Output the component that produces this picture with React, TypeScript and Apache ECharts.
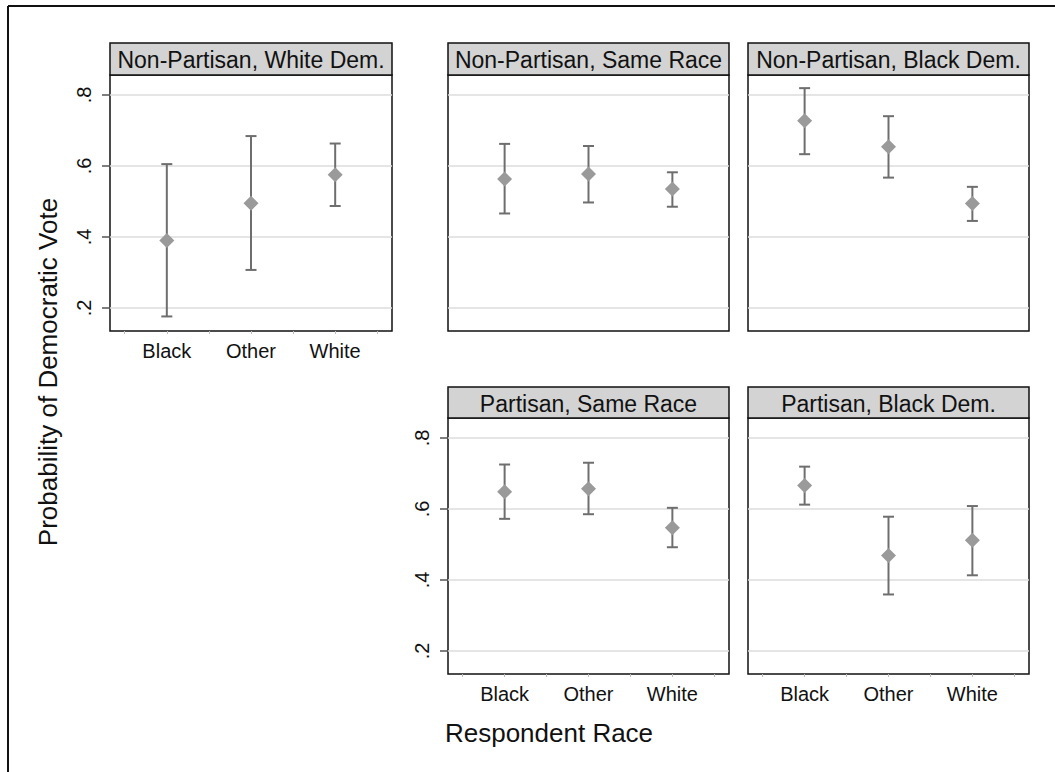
import React, { useEffect, useRef } from "react";
import * as echarts from "echarts";

const categories = ["Black", "Other", "White"];
const panelTitles = [
  "Non-Partisan, White Dem.",
  "Non-Partisan, Same Race",
  "Non-Partisan, Black Dem.",
  "Partisan, Same Race",
  "Partisan, Black Dem.",
];
const est1 = [0.39, 0.495, 0.575];
const lo1 = [0.176, 0.307, 0.487];
const hi1 = [0.605, 0.684, 0.663];
const est2 = [0.563, 0.577, 0.535];
const lo2 = [0.466, 0.497, 0.485];
const hi2 = [0.662, 0.656, 0.582];
const est3 = [0.727, 0.654, 0.494];
const lo3 = [0.633, 0.567, 0.445];
const hi3 = [0.819, 0.74, 0.541];
const est4 = [0.648, 0.657, 0.547];
const lo4 = [0.572, 0.585, 0.492];
const hi4 = [0.725, 0.73, 0.603];
const est5 = [0.666, 0.469, 0.512];
const lo5 = [0.612, 0.359, 0.413];
const hi5 = [0.719, 0.578, 0.608];
const yTicks = [0.2, 0.4, 0.6, 0.8];
const xTicks = [0.5, 1, 1.5, 2, 2.5, 3, 3.5];
const xLabelVals = [1, 2, 3];
const yTitle = "Probability of Democratic Vote";
const xTitle = "Respondent Race";

const FONT = '"Liberation Sans", Arial, Helvetica, sans-serif';

const ests = [est1, est2, est3, est4, est5];
const los = [lo1, lo2, lo3, lo4, lo5];
const his = [hi1, hi2, hi3, hi4, hi5];

// layout
const grids = [
  { left: 110, top: 75, width: 282, height: 256 },
  { left: 448, top: 75, width: 281, height: 256 },
  { left: 748, top: 75, width: 281, height: 256 },
  { left: 448, top: 418, width: 281, height: 256 },
  { left: 748, top: 418, width: 281, height: 256 },
];
const headerTop = [43, 43, 43, 387, 387];
const showX = [true, false, false, true, true];
const showY = [true, false, false, true, false];

export default function App() {
  const ref = useRef<HTMLDivElement>(null);
  useEffect(() => {
    if (!ref.current) return;
    const chart = echarts.init(ref.current, null, { renderer: "svg" });
    const xAxis: any[] = [];
    const yAxis: any[] = [];
    const series: any[] = [];
    const graphic: any[] = [];

    grids.forEach((g, i) => {
      xAxis.push({
        type: "value",
        gridIndex: i,
        min: 0.325,
        max: 3.675,
        axisLine: { show: false },
        splitLine: { show: false },
        axisTick: {
          show: showX[i],
          customValues: xTicks,
          length: 3,
          lineStyle: { color: "#bbbbbb", width: 1 },
        },
        axisLabel: {
          show: showX[i],
          customValues: xLabelVals,
          margin: 10,
          fontSize: 20,
          fontFamily: FONT,
          color: "#111",
          formatter: (v: number) => categories[Math.round(v) - 1] || "",
        },
      });
      yAxis.push({
        type: "value",
        gridIndex: i,
        min: 0.135,
        max: 0.856,
        axisLine: { show: false },
        splitLine: { show: false },
        axisTick: {
          show: showY[i],
          customValues: yTicks,
          length: 8,
          lineStyle: { color: "#555", width: 1.5 },
        },
        axisLabel: {
          show: showY[i],
          customValues: yTicks,
          rotate: 90,
          margin: 16,
          fontSize: 20,
          fontFamily: FONT,
          color: "#111",
          formatter: (v: number) => v.toFixed(1).replace(/^0/, ""),
        },
      });
      // gridlines
      series.push({
        type: "custom",
        xAxisIndex: i,
        yAxisIndex: i,
        silent: true,
        z: 1,
        data: yTicks.map((t) => [1, t]),
        renderItem: (params: any, api: any) => {
          const cs = params.coordSys;
          const y = api.coord([1, api.value(1)])[1];
          return {
            type: "line",
            shape: { x1: cs.x, y1: y, x2: cs.x + cs.width, y2: y },
            style: { stroke: "#dddddd", lineWidth: 1.5 },
          };
        },
      });
      // error bars
      series.push({
        type: "custom",
        xAxisIndex: i,
        yAxisIndex: i,
        silent: true,
        z: 3,
        data: categories.map((_, k) => [k + 1, los[i][k], his[i][k]]),
        renderItem: (params: any, api: any) => {
          const x = api.value(0);
          const lo = api.coord([x, api.value(1)]);
          const hi = api.coord([x, api.value(2)]);
          const hw = 5.5;
          const st = { stroke: "#6e6e6e", lineWidth: 2 };
          return {
            type: "group",
            children: [
              { type: "line", shape: { x1: lo[0], y1: lo[1], x2: hi[0], y2: hi[1] }, style: st },
              { type: "line", shape: { x1: lo[0] - hw, y1: lo[1], x2: lo[0] + hw, y2: lo[1] }, style: st },
              { type: "line", shape: { x1: hi[0] - hw, y1: hi[1], x2: hi[0] + hw, y2: hi[1] }, style: st },
            ],
          };
        },
      });
      // points
      series.push({
        type: "scatter",
        xAxisIndex: i,
        yAxisIndex: i,
        z: 4,
        symbol: "diamond",
        symbolSize: [15, 15],
        itemStyle: { color: "#9a9a9a", opacity: 1 },
        data: categories.map((_, k) => [k + 1, ests[i][k]]),
      });
      // header strip
      graphic.push({
        type: "rect",
        shape: { x: g.left, y: headerTop[i], width: g.width, height: g.top - headerTop[i] },
        style: { fill: "#d3d3d3", stroke: "#111", lineWidth: 1.5 },
        z: 10,
      });
      graphic.push({
        type: "text",
        x: g.left + g.width / 2,
        y: (headerTop[i] + g.top) / 2 + 1,
        style: {
          text: panelTitles[i],
          fontSize: 23,
          fontFamily: FONT,
          fill: "#111",
          align: "center",
          verticalAlign: "middle",
        },
        z: 11,
      });
    });

    graphic.push({
      type: "line",
      shape: { x1: 8, y1: 6, x2: 1055, y2: 6 },
      style: { stroke: "#111", lineWidth: 2 },
    });
    graphic.push({
      type: "line",
      shape: { x1: 8, y1: 6, x2: 8, y2: 772 },
      style: { stroke: "#111", lineWidth: 2 },
    });
    graphic.push({
      type: "text",
      x: 48,
      y: 372,
      rotation: Math.PI / 2,
      style: {
        text: yTitle,
        fontSize: 26,
        fontFamily: FONT,
        fill: "#111",
        align: "center",
        verticalAlign: "middle",
      },
    });
    graphic.push({
      type: "text",
      x: 549,
      y: 733,
      style: {
        text: xTitle,
        fontSize: 26,
        fontFamily: FONT,
        fill: "#111",
        align: "center",
        verticalAlign: "middle",
      },
    });

    chart.setOption({
      animation: false,
      backgroundColor: "#ffffff",
      grid: grids.map((g) => ({
        ...g,
        show: true,
        borderColor: "#111",
        borderWidth: 1.5,
        backgroundColor: "#ffffff",
        containLabel: false,
      })),
      xAxis,
      yAxis,
      series,
      graphic,
    });
    return () => chart.dispose();
  }, []);
  return (
    <div
      ref={ref}
      style={{ position: "absolute", left: 0, top: 0, width: 1055, height: 772, background: "#fff" }}
    />
  );
}
